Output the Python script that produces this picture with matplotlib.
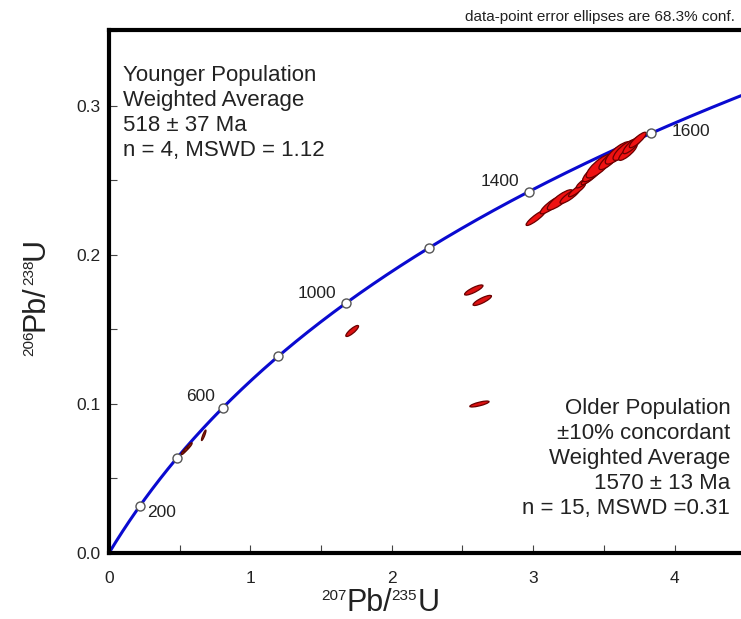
import numpy as np
import matplotlib
matplotlib.use('Agg')
import matplotlib.pyplot as plt
from matplotlib.patches import Ellipse
from matplotlib.ticker import MultipleLocator

plt.rcParams['font.family'] = ['Liberation Sans', 'DejaVu Sans']

# decay constants (1/Ma)
L235 = 9.8485e-4
L238 = 1.55125e-4

# age markers on the concordia (Ma)
MARKER_AGES = [200, 400, 600, 800, 1000, 1200, 1400, 1600]
LABEL_AGES = [200, 600, 1000, 1400, 1600]

# older population: 207/235, 206/238, sx, sy, rho
OLD_X = [3.02, 3.13, 3.19, 3.26, 3.31, 3.36, 3.40, 3.43, 3.47, 3.54, 3.60, 3.65, 3.67, 3.70, 3.74]
OLD_Y = [0.2250, 0.2336, 0.2370, 0.2396, 0.2436, 0.2490, 0.2517, 0.2557, 0.2597, 0.2638, 0.2685, 0.2705, 0.2690, 0.2738, 0.2772]
OLD_SX = [0.070, 0.080, 0.090, 0.070, 0.060, 0.055, 0.060, 0.080, 0.095, 0.075, 0.090, 0.085, 0.065, 0.065, 0.060]
OLD_SY = [0.0052, 0.0060, 0.0068, 0.0050, 0.0045, 0.0040, 0.0045, 0.0065, 0.0080, 0.0065, 0.0075, 0.0070, 0.0055, 0.0058, 0.0052]
OLD_RHO = [0.90, 0.86, 0.84, 0.86, 0.88, 0.88, 0.88, 0.82, 0.80, 0.82, 0.80, 0.80, 0.84, 0.84, 0.86]

# discordant grains
DISC_X = [2.58, 2.64, 1.72, 2.62]
DISC_Y = [0.1765, 0.1695, 0.1490, 0.1000]
DISC_SX = [0.065, 0.065, 0.045, 0.068]
DISC_SY = [0.0034, 0.0034, 0.0037, 0.0020]
DISC_RHO = [0.84, 0.84, 0.85, 0.78]

# younger population
YOUNG_X = [0.53, 0.55, 0.57, 0.67]
YOUNG_Y = [0.0680, 0.0700, 0.0720, 0.0790]
YOUNG_SX = [0.020, 0.022, 0.018, 0.016]
YOUNG_SY = [0.0020, 0.0022, 0.0020, 0.0035]
YOUNG_RHO = [0.85, 0.85, 0.85, 0.88]


def concordia(t):
    return np.exp(L235 * np.asarray(t)) - 1, np.exp(L238 * np.asarray(t)) - 1


def add_ellipse(ax, x, y, sx, sy, rho, face, edge):
    cov = np.array([[sx * sx, rho * sx * sy], [rho * sx * sy, sy * sy]])
    vals, vecs = np.linalg.eigh(cov)
    ang = np.degrees(np.arctan2(vecs[1, 1], vecs[0, 1]))
    e = Ellipse((x, y), 2 * np.sqrt(vals[1]), 2 * np.sqrt(vals[0]), angle=ang,
                facecolor=face, edgecolor=edge, linewidth=0.9, zorder=3)
    ax.add_patch(e)


def iso_label(fig, cx, cy, parts, vertical=False, big=22, small=11):
    # parts: (text, superscript?) drawn piece by piece, centred on (cx, cy) in pixels
    r = fig.canvas.get_renderer()
    widths = []
    for txt, sup in parts:
        t = fig.text(0, 0, txt, fontsize=small if sup else big, transform=None)
        widths.append(t.get_window_extent(r).width)
        t.remove()
    lift = 0.716 * (big - small) * 100 / 72
    pos = -sum(widths) / 2
    for (txt, sup), w in zip(parts, widths):
        fs = small if sup else big
        off = lift if sup else 0
        if vertical:
            fig.text(cx - off, cy + pos, txt, fontsize=fs, transform=None, rotation=90,
                     rotation_mode='anchor', ha='left', va='baseline', color='#222222')
        else:
            fig.text(cx + pos, cy + off, txt, fontsize=fs, transform=None,
                     ha='left', va='baseline', color='#222222')
        pos += w


fig = plt.figure(figsize=(7.41, 6.19), dpi=100)
ax = fig.add_axes([109 / 741, 66 / 619, 632 / 741, 523 / 619])

t = np.linspace(0, 1800, 600)
cx, cy = concordia(t)
ax.plot(cx, cy, color='#0a0ad0', lw=2.2, zorder=2)

for xs, ys, sxs, sys_, rhos, face, edge in [
        (OLD_X, OLD_Y, OLD_SX, OLD_SY, OLD_RHO, '#ee1111', '#6a0000'),
        (DISC_X, DISC_Y, DISC_SX, DISC_SY, DISC_RHO, '#dd1111', '#6a0000'),
        (YOUNG_X, YOUNG_Y, YOUNG_SX, YOUNG_SY, YOUNG_RHO, '#9a1a10', '#5a0a00')]:
    for i in range(len(xs)):
        add_ellipse(ax, xs[i], ys[i], sxs[i], sys_[i], rhos[i], face, edge)

mx, my = concordia(MARKER_AGES)
ax.plot(mx, my, 'o', ms=6.5, mfc='white', mec='#555555', mew=1.0, zorder=5)

offsets = {200: (5, -5, 'left', 'center'), 600: (-6, 8, 'right', 'center'),
           1000: (-7, 7, 'right', 'center'), 1400: (-7, 7, 'right', 'center'),
           1600: (15, 1, 'left', 'center')}
for age in LABEL_AGES:
    px, py = concordia(age)
    dx, dy, ha, va = offsets[age]
    ax.annotate(str(age), (px, py), xytext=(dx, dy), textcoords='offset points',
                ha=ha, va=va, fontsize=12.5, color='#222222')

ax.set_xlim(0, 4.47)
ax.set_ylim(0, 0.351)
ax.xaxis.set_major_locator(MultipleLocator(1))
ax.xaxis.set_minor_locator(MultipleLocator(0.5))
ax.yaxis.set_major_locator(MultipleLocator(0.1))
ax.yaxis.set_minor_locator(MultipleLocator(0.05))
ax.xaxis.set_major_formatter(plt.FuncFormatter(lambda v, p: '%d' % v))
ax.yaxis.set_major_formatter(plt.FuncFormatter(lambda v, p: '%.1f' % v))
ax.tick_params(which='both', direction='in', length=6, width=0.8, color='#444444',
               labelsize=12.5, labelcolor='#222222')
ax.tick_params(axis='x', which='both', pad=13)
ax.tick_params(axis='y', which='both', pad=6)
for s in ['left', 'bottom', 'top']:
    ax.spines[s].set_linewidth(3)
ax.spines['right'].set_visible(False)

# axis titles (pixel coords from bottom-left)
iso_label(fig, 380, 619 - 611, [('207', True), ('Pb/', False), ('235', True), ('U', False)])
iso_label(fig, 44, 619 - 297, [('206', True), ('Pb/', False), ('238', True), ('U', False)],
          vertical=True)

ax.text(0.022, 0.934, 'Younger Population\nWeighted Average\n518 \u00b1 37 Ma\nn = 4, MSWD = 1.12',
        transform=ax.transAxes, ha='left', va='top', fontsize=16, linespacing=1.27,
        color='#222222')
ax.text(0.983, 0.297, 'Older Population\n\u00b110% concordant\nWeighted Average\n1570 \u00b1 13 Ma\nn = 15, MSWD =0.31',
        transform=ax.transAxes, ha='right', va='top', fontsize=16, linespacing=1.25,
        multialignment='right', color='#222222')

fig.text(735 / 741, 1 - 17 / 619, 'data-point error ellipses are 68.3% conf.',
         ha='right', va='center', fontsize=11, color='#222222')

fig.savefig('out.png', dpi=100)
